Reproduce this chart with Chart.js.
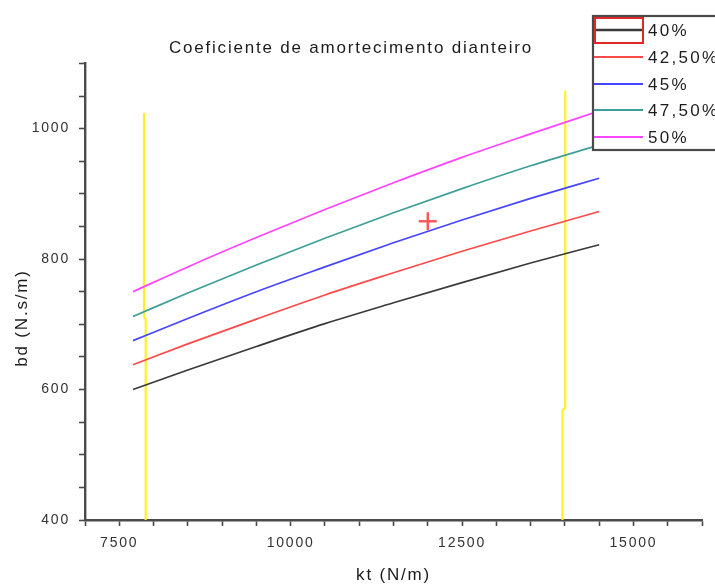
<!DOCTYPE html>
<html>
<head>
<meta charset="utf-8">
<script src="https://cdn.jsdelivr.net/npm/chart.js@4"></script>
<style>
html, body { margin: 0; padding: 0; background: #fff; }
</style>
</head>
<body>
<canvas id="chart" width="715" height="586"></canvas>
<script>
// kt (N/m) sample points
const ktValues = [7700, 8500, 9500, 10500, 11500, 12500, 13500, 14500];

// bd (N.s/m) for each damping ratio
const bd40 = [600, 630, 666, 701, 733, 764, 794, 822];
const bd425 = [638, 670, 708, 745, 779, 812, 843, 873];
const bd45 = [675, 709, 750, 788, 825, 860, 893, 924];
const bd475 = [712, 748, 791, 832, 871, 908, 943, 975];
const bd50 = [750, 788, 833, 876, 917, 956, 992, 1027];

const seriesLabels = ['40%', '42,50%', '45%', '47,50%', '50%'];
const seriesColors = ['#3a3a3a', '#ff4a4a', '#4646ff', '#3f9f98', '#ff44ff'];

// yellow limit lines (hand drawn in the original)
const leftLimitKt = [7860, 7860, 7885, 7885];
const leftLimitBd = [1024, 712, 708, 400];
const rightLimitKt = [14005, 14005, 13965, 13965];
const rightLimitBd = [1058, 572, 568, 400];

// marked point
const markKt = [12000];
const markBd = [858];

const yTitle = 'bd (N.s/m)';

function toPoints(xs, ys) {
    return xs.map((x, i) => ({ x: x, y: ys[i] }));
}

const curves = [bd40, bd425, bd45, bd475, bd50].map((ys, i) => ({
    label: seriesLabels[i],
    data: toPoints(ktValues, ys),
    borderColor: seriesColors[i],
    borderWidth: 1.7,
    pointRadius: 0,
    cubicInterpolationMode: 'monotone',
    fill: false
}));

const yellowLine = (xs, ys) => ({
    label: '',
    data: toPoints(xs, ys),
    borderColor: '#fff02a',
    borderWidth: 2.2,
    pointRadius: 0,
    tension: 0
});

const textSpacing = {
    id: 'textSpacing',
    beforeDraw(chart) {
        chart.ctx.letterSpacing = '1.8px';
    }
};

const sideBits = {
    id: 'sideBits',
    afterDatasetsDraw(chart) {
        const ctx = chart.ctx;
        ctx.save();
        // legend box
        ctx.fillStyle = '#fff';
        ctx.fillRect(592, 16, 130, 134);
        ctx.strokeStyle = '#4a4a4a';
        ctx.lineWidth = 2.2;
        ctx.strokeRect(593, 16, 130, 134);
        const rows = [30, 57, 84, 110, 137];
        ctx.font = '17px "Liberation Sans", Arial, sans-serif';
        ctx.letterSpacing = '2.3px';
        ctx.textBaseline = 'middle';
        rows.forEach((y, i) => {
            ctx.strokeStyle = seriesColors[i];
            ctx.lineWidth = i === 0 ? 2.4 : 2;
            ctx.beginPath();
            ctx.moveTo(594, y);
            ctx.lineTo(643, y);
            ctx.stroke();
            ctx.fillStyle = '#1c1c1c';
            ctx.fillText(seriesLabels[i], 648, y + 1);
        });
        // selection frame around the first sample
        ctx.strokeStyle = '#e02828';
        ctx.lineWidth = 2;
        ctx.strokeRect(595, 18, 48, 25);
        ctx.restore();
    },
    afterDraw(chart) {
        const ctx = chart.ctx;
        ctx.save();
        ctx.font = '17px "Liberation Sans", Arial, sans-serif';
        ctx.letterSpacing = '1.8px';
        ctx.fillStyle = '#1c1c1c';
        ctx.textAlign = 'center';
        ctx.textBaseline = 'middle';
        ctx.translate(22, 318);
        ctx.rotate(-Math.PI / 2);
        ctx.fillText(yTitle, 0, 0);
        ctx.restore();
    }
};

const tickFont = { family: '"Liberation Sans", Arial, sans-serif', size: 14 };

new Chart(document.getElementById('chart'), {
    type: 'line',
    data: {
        datasets: [
            ...curves,
            yellowLine(leftLimitKt, leftLimitBd),
            yellowLine(rightLimitKt, rightLimitBd),
            {
                label: '',
                type: 'scatter',
                data: toPoints(markKt, markBd),
                pointStyle: 'cross',
                pointRadius: 9,
                borderWidth: 2.5,
                borderColor: '#ff5a5a',
                showLine: false
            }
        ]
    },
    options: {
        responsive: false,
        animation: false,
        devicePixelRatio: 1,
        layout: { padding: { left: 0, right: 13, top: 0, bottom: 0 } },
        plugins: {
            legend: { display: false },
            tooltip: { enabled: false },
            title: {
                display: true,
                text: 'Coeficiente de amortecimento dianteiro',
                color: '#1c1c1c',
                font: { family: '"Liberation Sans", Arial, sans-serif', size: 17, weight: 'normal' },
                padding: { top: 38, bottom: 5 }
            }
        },
        scales: {
            x: {
                type: 'linear',
                min: 7000,
                max: 16000,
                afterFit: s => { s.height = 66; },
                ticks: {
                    stepSize: 500,
                    autoSkip: false,
                    maxRotation: 0,
                    padding: 9,
                    color: '#333',
                    font: tickFont,
                    callback: v => (v % 2500 === 0 ? String(v) : '')
                },
                grid: { drawOnChartArea: false, tickLength: 6, tickColor: '#4a4a4a', tickWidth: 1.6 },
                border: { color: '#4a4a4a', width: 2.4 },
                title: {
                    display: true,
                    text: 'kt (N/m)',
                    color: '#1c1c1c',
                    font: { family: '"Liberation Sans", Arial, sans-serif', size: 17 },
                    padding: { top: 0, bottom: 0 }
                }
            },
            y: {
                type: 'linear',
                min: 400,
                max: 1100,
                afterFit: s => { s.width = 85; },
                ticks: {
                    stepSize: 50,
                    autoSkip: false,
                    padding: 9,
                    color: '#333',
                    font: tickFont,
                    callback: v => (v % 200 === 0 ? String(v) : '')
                },
                grid: { drawOnChartArea: false, tickLength: 6, tickColor: '#4a4a4a', tickWidth: 1.6 },
                border: { color: '#4a4a4a', width: 2.4 }
            }
        }
    },
    plugins: [textSpacing, sideBits]
});
</script>
</body>
</html>
